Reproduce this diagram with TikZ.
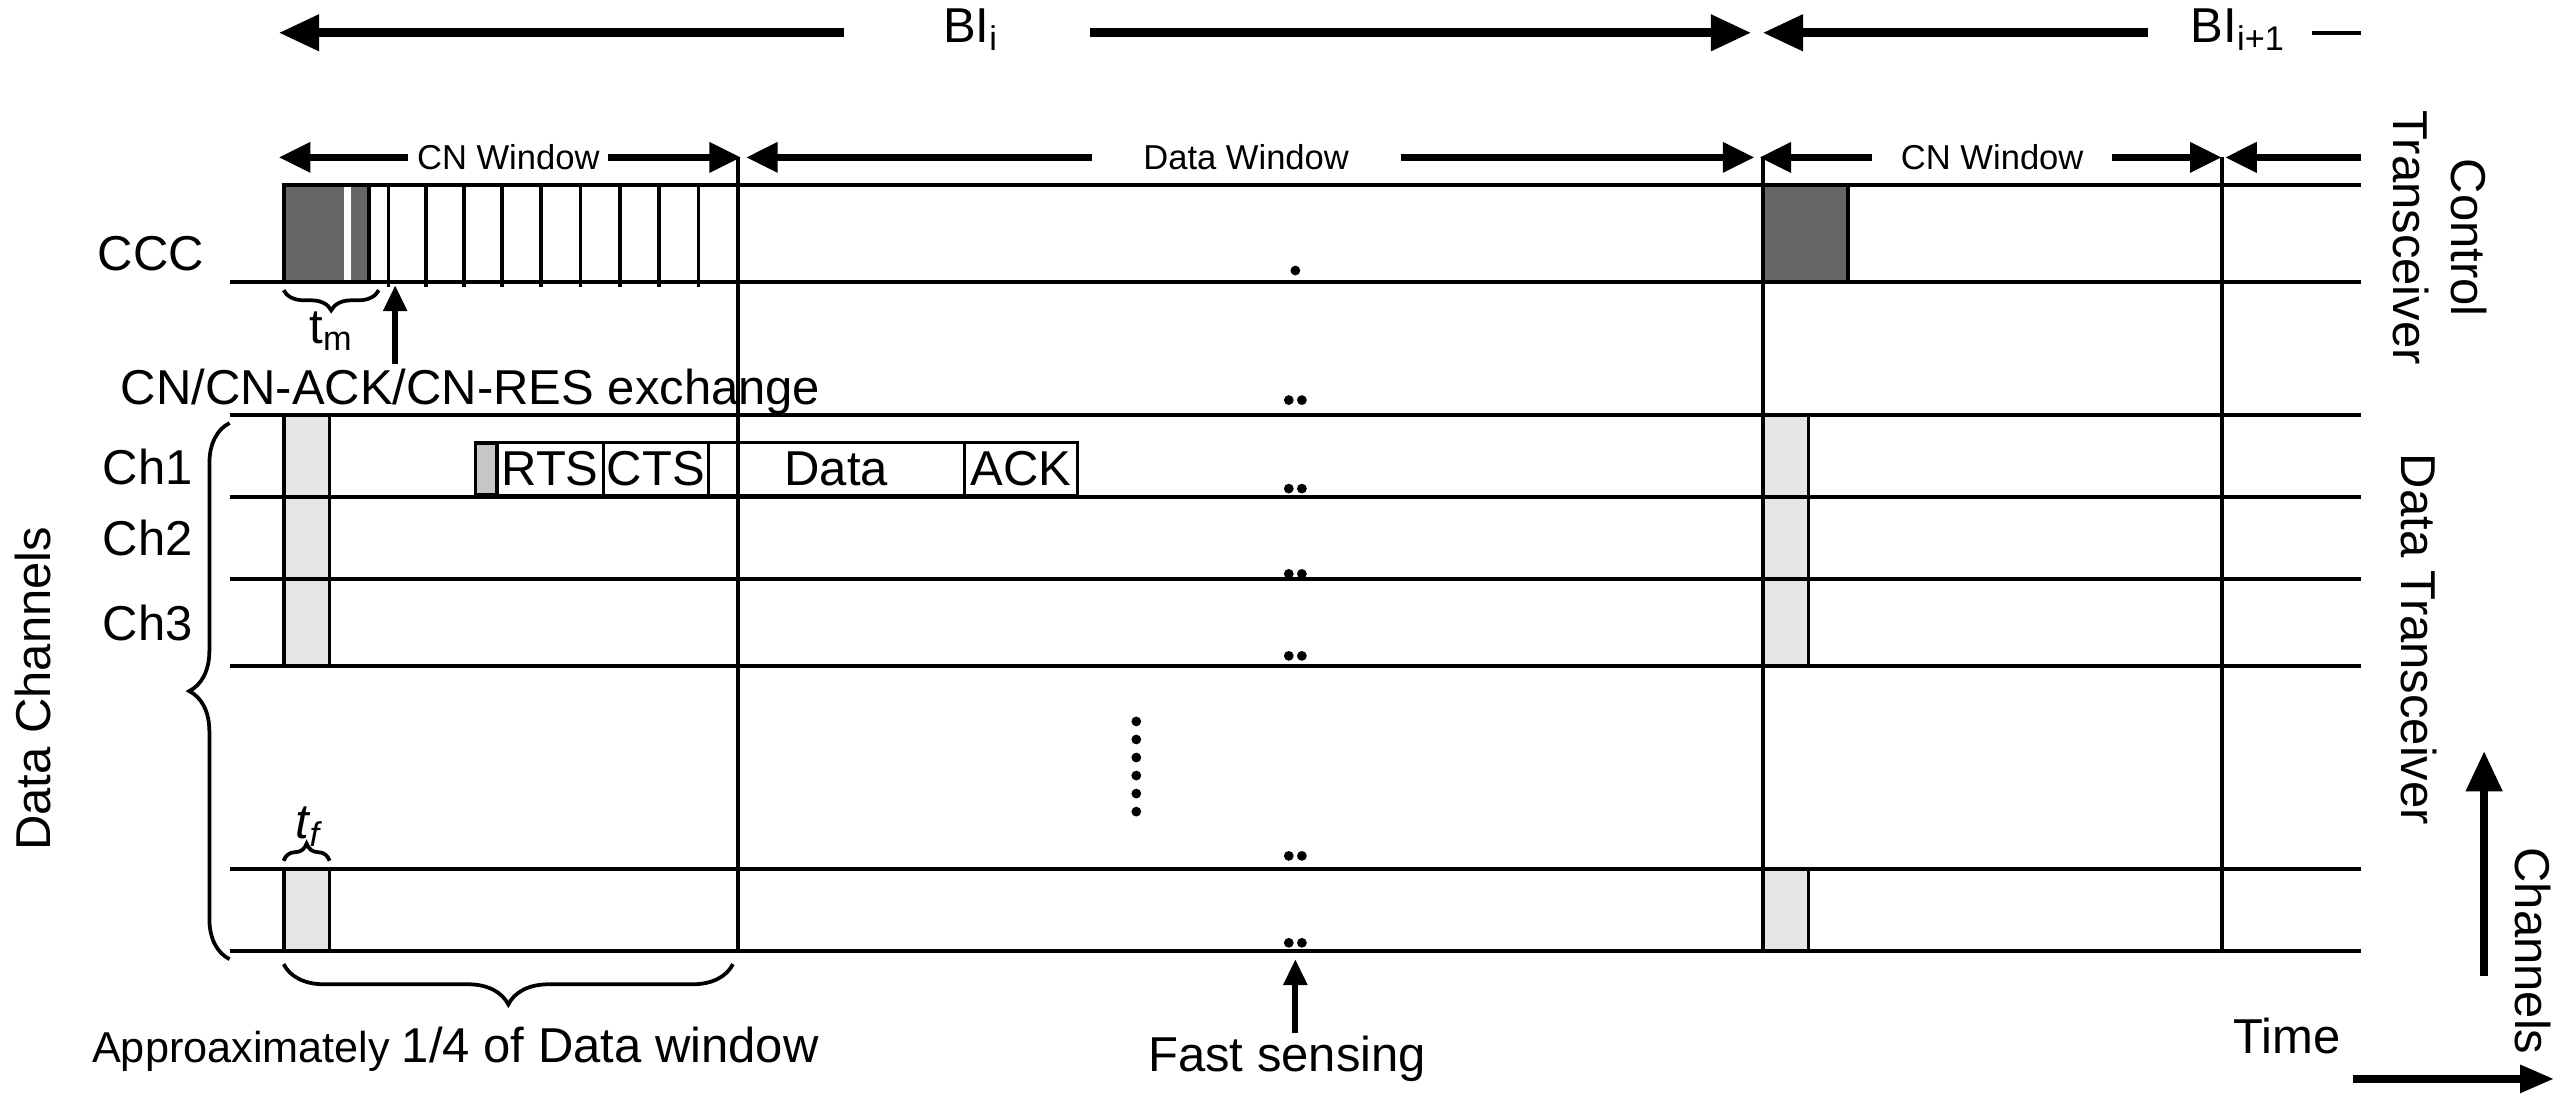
\documentclass[tikz,border=0pt]{standalone}
\usepackage{fontspec}
\setmainfont{Liberation Sans}
\usetikzlibrary{decorations.pathreplacing,arrows.meta}
\begin{document}
\begin{tikzpicture}[x=0.02cm,y=-0.02cm,
  ln/.style={line width=1.3pt},
  big/.style={line width=3pt,-{Triangle[length=14pt,width=12pt]}},
  dbl/.style={line width=2.5pt,{Triangle[length=11pt,width=10pt]}-{Triangle[length=11pt,width=10pt]}},
  lab/.style={font=\fontsize{17}{20}\selectfont},
  sm/.style={font=\fontsize{12}{14}\selectfont},
  dot/.style={circle,fill,inner sep=1.2pt}]
\useasboundingbox (0,0) rectangle (1568,671);
% top BI arrows
\coordinate (b1) at (170,20); \coordinate (b2) at (515,20);
\coordinate (b3) at (665,20); \coordinate (b4) at (1068,20);
\draw[big] (b2) -- (b1); \draw[big] (b3) -- (b4);
\node[lab] (bi) at (592,18) {BI\textsubscript{i}};
\coordinate (c1) at (1075,20); \coordinate (c2) at (1310,20);
\draw[big] (c2) -- (c1);
\node[lab] (bii) at (1365,18) {BI\textsubscript{i+1}};
\coordinate (c3) at (1410,20); \coordinate (c4) at (1440,20);
\draw[line width=1.5pt] (c3) -- (c4);
% windows
\coordinate (w1) at (170,96); \coordinate (w2) at (452,96);
\draw[dbl] (w1) -- (w2);
\node[sm,fill=white,inner sep=3pt] (cnw) at (310,96) {CN Window};
\coordinate (w3) at (455,96); \coordinate (w4) at (1070,96);
\draw[dbl] (w3) -- (w4);
\node[sm,fill=white,inner xsep=18pt] (dw) at (760,96) {Data Window};
\coordinate (w5) at (1073,96); \coordinate (w6) at (1355,96);
\draw[dbl] (w5) -- (w6);
\node[sm,fill=white,inner xsep=10pt] (cnw2) at (1215,96) {CN Window};
\coordinate (w7) at (1440,96); \coordinate (w8) at (1357,96);
\draw[line width=2.5pt,-{Triangle[length=11pt,width=10pt]}] (w7) -- (w8);
% boxes
\fill[gray!80!black] (173,113) rectangle (210,172);
\fill[gray!80!black] (214,113) rectangle (225,172);
\fill[gray!80!black] (1075,113) rectangle (1127,172);
\draw[ln] (173,113) rectangle (225,172);
\draw[ln] (1075,113) rectangle (1127,172);
\foreach \a/\b in {253/406,530/580}{
  \fill[gray!20] (173,\a) rectangle (201,\b); \draw[ln] (173,\a) rectangle (201,\b);
  \fill[gray!20] (1075,\a) rectangle (1103,\b); \draw[ln] (1075,\a) rectangle (1103,\b);}
% horizontal lines
\draw[ln] (173,113) -- (1440,113);
\foreach \y in {172,253,303,353,406,530,580}{\draw[ln] (140,\y) -- (1440,\y);}
% ticks
\foreach \x in {237,260,283,306,330,354,378,402,426}{\draw[ln] (\x,113) -- (\x,175);}
% verticals
\draw[ln] (450,96) -- (450,580);
\draw[ln] (1075,96) -- (1075,580);
\draw[ln] (1355,96) -- (1355,580);
% labels
\node[lab] (ccc) at (92,155) {CCC};
\node[lab] (ch1) at (90,285) {Ch1};
\node[lab] (ch2) at (90,328) {Ch2};
\node[lab] (ch3) at (90,380) {Ch3};
\draw[line width=1.3pt,decorate,decoration={brace,amplitude=7pt,mirror}] (173,177) -- (231,177);
\node[lab] (tm) at (202,202) {t\textsubscript{m}};
\coordinate (ta) at (241,222); \coordinate (tb) at (241,174);
\draw[line width=2pt,-{Triangle[length=9pt,width=8pt]}] (ta) -- (tb);
\node[lab] (cnx) at (287,239) {CN/CN-ACK/CN-RES exchange};
\draw[line width=1.3pt,decorate,decoration={brace,amplitude=14pt}] (140,585) -- (140,258);
\node[lab,rotate=90] (dc) at (20,420) {Data Channels};
% packet
\fill[gray!45] (290,270) rectangle (303,302); \draw[ln] (290,270) rectangle (303,302);
\node[lab,draw,line width=1pt,inner sep=0pt,minimum height=0.64cm,minimum width=1.3cm] (rts) at (335.5,286) {RTS};
\node[lab,draw,line width=1pt,inner sep=0pt,minimum height=0.64cm,minimum width=1.28cm] (cts) at (400,286) {CTS};
\node[lab,draw,line width=1pt,inner sep=0pt,minimum height=0.64cm,minimum width=3.12cm] (dat) at (510,286) {Data};
\node[lab,draw,line width=1pt,inner sep=0pt,minimum height=0.64cm,minimum width=1.38cm] (ack) at (622.5,286) {ACK};
% dots
\node[dot] at (790,165) {};
\foreach \y in {244,298,350,400,522,575}{\node[dot] at (786,\y) {}; \node[dot] at (794,\y) {};}
\foreach \y in {440,451,462,473,484,495}{\node[dot] at (693,\y) {};}
\draw[line width=1.3pt,decorate,decoration={brace,amplitude=6pt}] (173,525) -- (201,525);
\node[lab] (tf) at (188,504) {\itshape t\textsubscript{f}};
\draw[line width=1.3pt,decorate,decoration={brace,amplitude=14pt,mirror}] (173,588) -- (447,588);
\node[anchor=west] (ap) at (50,640) {\fontsize{15}{18}\selectfont Approaximately \fontsize{17}{20}\selectfont 1/4 of Data window};
\coordinate (fa) at (790,630); \coordinate (fb) at (790,585);
\draw[line width=2pt,-{Triangle[length=9pt,width=8pt]}] (fa) -- (fb);
\node[lab] (fs) at (785,646) {Fast sensing};
\node[lab] (time) at (1395,632) {Time};
\coordinate (t1) at (1435,658); \coordinate (t2) at (1558,658);
\draw[line width=3pt,-{Triangle[length=12pt,width=9pt]}] (t1) -- (t2);
\coordinate (h1) at (1515,595); \coordinate (h2) at (1515,458);
\draw[big] (h1) -- (h2);
\node[lab,rotate=-90] (chs) at (1545,580) {Channels};
\node[lab,rotate=-90] (dt) at (1475,390) {Data Transceiver};
\node[lab,rotate=-90,align=center] (ct) at (1488,145) {Control\\Transceiver};
\end{tikzpicture}
\end{document}
